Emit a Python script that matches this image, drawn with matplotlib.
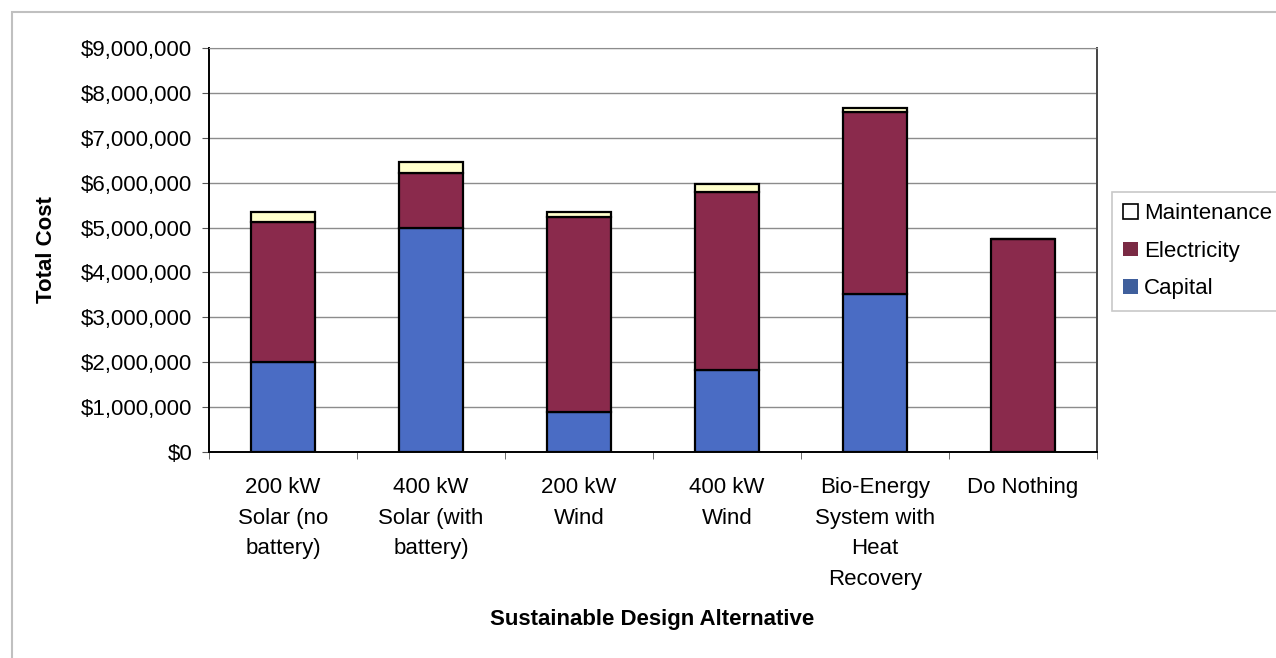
import matplotlib
matplotlib.use("Agg")
import matplotlib.pyplot as plt
from matplotlib.patches import Patch, Rectangle
from matplotlib.ticker import FuncFormatter, MultipleLocator, FixedLocator

categories = ["200 kW\nSolar (no\nbattery)", "400 kW\nSolar (with\nbattery)", "200 kW\nWind",
              "400 kW\nWind", "Bio-Energy\nSystem with\nHeat\nRecovery", "Do Nothing"]
capital = [2.00e6, 5.00e6, 0.90e6, 1.82e6, 3.52e6, 0.0]
electricity = [3.12e6, 1.22e6, 4.33e6, 3.97e6, 4.05e6, 4.74e6]
maintenance = [0.23e6, 0.23e6, 0.12e6, 0.18e6, 0.10e6, 0.0]

c_cap = "#4a6cc4"
c_elec = "#8a2a4c"
c_maint = "#ffffcc"

plt.rcParams["font.family"] = ["Liberation Sans", "DejaVu Sans"]
FS = 16

fig = plt.figure(figsize=(12.76, 6.58), dpi=100)
ax = fig.add_axes([209 / 1276, 1 - 452 / 658, (1097 - 209) / 1276, (452 - 48) / 658])

x = list(range(len(categories)))
w = 0.43
lw = 1.6
ax.bar(x, capital, w, color=c_cap, edgecolor="black", linewidth=lw, zorder=3)
ax.bar(x, electricity, w, bottom=capital, color=c_elec, edgecolor="black", linewidth=lw, zorder=3)
bottom3 = [a + b for a, b in zip(capital, electricity)]
ax.bar(x, maintenance, w, bottom=bottom3, color=c_maint, edgecolor="black", linewidth=lw, zorder=3)

ax.set_xlim(-0.5, len(categories) - 0.5)
ax.set_ylim(0, 9e6)
ax.yaxis.set_major_locator(MultipleLocator(1e6))
ax.yaxis.set_major_formatter(FuncFormatter(lambda v, p: f"${v:,.0f}"))
ax.grid(axis="y", color="#8c8c8c", linewidth=1.0, zorder=0)

ax.set_xticks(x)
ax.set_xticklabels(categories, fontsize=FS, linespacing=1.6, va="top")
ax.tick_params(axis="x", which="major", length=0, pad=18)
ax.xaxis.set_minor_locator(FixedLocator([i + 0.5 for i in range(-1, len(categories))]))
ax.tick_params(axis="x", which="minor", length=5, color="#555555")
ax.tick_params(axis="y", length=5, labelsize=FS, pad=7, color="#555555")

for s in ["left", "bottom"]:
    ax.spines[s].set_color("black")
    ax.spines[s].set_linewidth(1.4)
ax.spines["right"].set_color("#444444")
ax.spines["right"].set_linewidth(1.4)
ax.spines["top"].set_color("#8c8c8c")

ax.set_ylabel("Total Cost", fontsize=FS, fontweight="bold")
ax.yaxis.set_label_coords((57 - 209) / 888, 0.5)
fig.text(652 / 1276, 1 - 620 / 658, "Sustainable Design Alternative", fontsize=FS,
         fontweight="bold", ha="center", va="center")

handles = [Patch(facecolor="white", edgecolor="black", linewidth=1.2, label="Maintenance"),
           Patch(facecolor="#7a2a44", edgecolor="none", label="Electricity"),
           Patch(facecolor="#3f5f9c", edgecolor="none", label="Capital")]
leg = fig.legend(handles=handles, loc="upper left", bbox_to_anchor=(1112 / 1276, 1 - 192 / 658),
                 fontsize=FS, frameon=True, fancybox=False, handlelength=0.65, handleheight=0.65,
                 handletextpad=0.3, labelspacing=0.75, borderpad=0.5, borderaxespad=0)
leg.get_frame().set_edgecolor("#bbbbbb")
leg.get_frame().set_linewidth(1.2)

# outer chart frame
fig.patches.append(Rectangle((12 / 1276, -0.1), 1.2, 1.1 - 12 / 658, transform=fig.transFigure,
                             fill=False, edgecolor="#c0c0c0", linewidth=1.5))

fig.savefig("out.png", dpi=100)
